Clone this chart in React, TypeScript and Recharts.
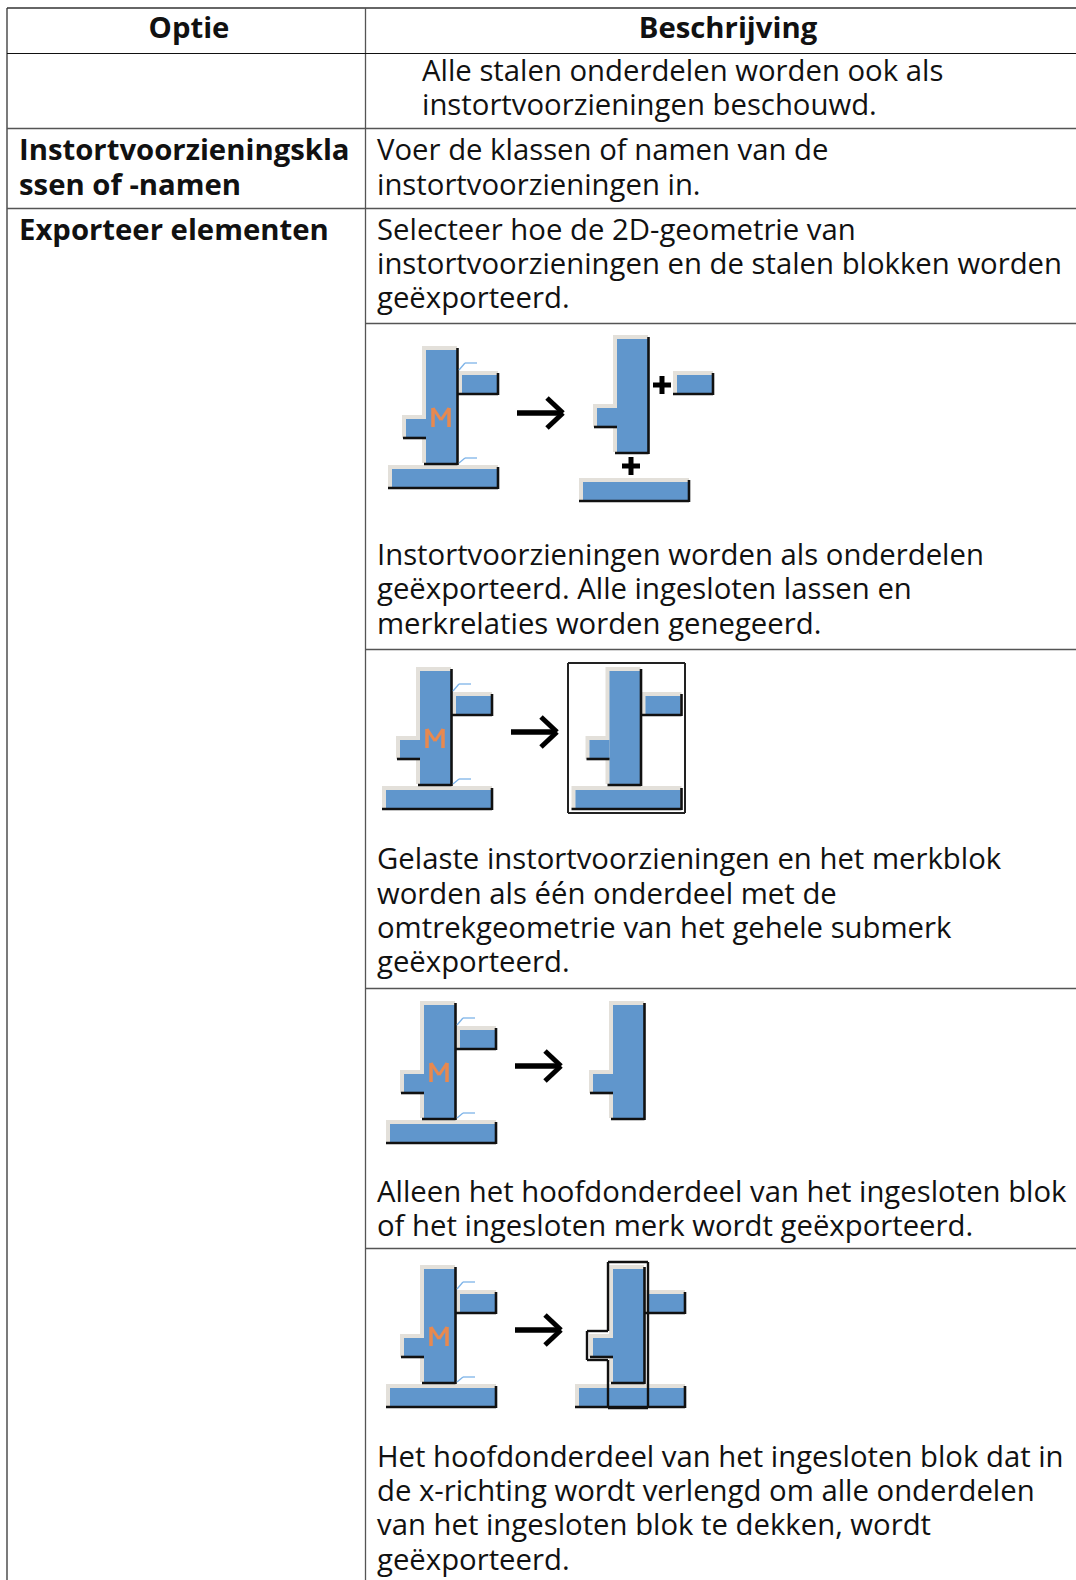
import React from 'react';
import { ComposedChart, XAxis, YAxis, Scatter, ReferenceLine, ReferenceArea } from 'recharts';

const W = 1076, H = 1580;
const FONT = '"Open Sans", sans-serif';
const MID = 365.5;

const headerTexts = ['Optie', 'Beschrijving'];
const optionLines = ['Instortvoorzieningskla', 'ssen of -namen', 'Exporteer elementen'];
const optionBaselines = [159.5, 194.5, 239.5];
const descLines = [
  'Alle stalen onderdelen worden ook als',
  'instortvoorzieningen beschouwd.',
  'Voer de klassen of namen van de',
  'instortvoorzieningen in.',
  'Selecteer hoe de 2D-geometrie van',
  'instortvoorzieningen en de stalen blokken worden',
  'geëxporteerd.',
  'Instortvoorzieningen worden als onderdelen',
  'geëxporteerd. Alle ingesloten lassen en',
  'merkrelaties worden genegeerd.',
  'Gelaste instortvoorzieningen en het merkblok',
  'worden als één onderdeel met de',
  'omtrekgeometrie van het gehele submerk',
  'geëxporteerd.',
  'Alleen het hoofdonderdeel van het ingesloten blok',
  'of het ingesloten merk wordt geëxporteerd.',
  'Het hoofdonderdeel van het ingesloten blok dat in',
  'de x-richting wordt verlengd om alle onderdelen',
  'van het ingesloten blok te dekken, wordt',
  'geëxporteerd.',
];
const descBaselines = [80.7, 114.7, 159.7, 194.7, 239.7, 273.7, 307.7, 564.7, 598.7, 633.7, 868.7, 903.7, 937.7, 971.7, 1201.7, 1235.7, 1466.7, 1500.7, 1534.7, 1569.7];
const descX = [422, 422, 377, 377, 377, 377, 377, 377, 377, 377, 377, 377, 377, 377, 377, 377, 377, 377, 377, 377];

const rowLinesRight = [323, 649, 988, 1248];

type Pt = { x: number; y: number; text: string; weight: number; anchor: string };
const textPoints: Pt[] = [
  { x: 189, y: 38, text: headerTexts[0], weight: 700, anchor: 'middle' },
  { x: 728, y: 38, text: headerTexts[1], weight: 700, anchor: 'middle' },
  ...optionLines.map((t, i) => ({ x: 19, y: optionBaselines[i], text: t, weight: 700, anchor: 'start' })),
  ...descLines.map((t, i) => ({ x: descX[i], y: descBaselines[i], text: t, weight: 400, anchor: 'start' })),
];

const TextShape = (p: any) => (
  <text x={p.cx} y={p.cy} textAnchor={p.payload.anchor} fontFamily={FONT} fontSize={29.3} fontWeight={p.payload.weight} fill="#111">{p.payload.text}</text>
);

const BLUE = '#6096cc', EDGE = '#e3e0da', DARK = '#111', WIRE = '#7db3e8', ORANGE = '#e8894f';
const rect = (k: string, x1: number, y1: number, x2: number, y2: number, fill: string) => (
  <ReferenceArea key={k} x1={x1} x2={x2} y1={y1} y2={y2} fill={fill} fillOpacity={1} stroke="none" ifOverflow="visible" />
);
const seg = (k: string, x1: number, y1: number, x2: number, y2: number, c = DARK, w = 2.6) => (
  <ReferenceLine key={k} segment={[{ x: x1, y: y1 }, { x: x2, y: y2 }]} stroke={c} strokeWidth={w} ifOverflow="visible" />
);
const block = (k: string, x1: number, y1: number, x2: number, y2: number) => [
  rect(k + 'e', x1 - 4, y1 - 4, x2 + 1, y2, EDGE),
  rect(k + 'b', x1, y1, x2, y2, BLUE),
  seg(k + 'r', x2 + 1, y1 - 2, x2 + 1, y2 + 2),
  seg(k + 'd', x1 - 4, y2 + 1, x2 + 1, y2 + 1),
];
const main = (k: string, ox: number, oy: number) => [
  rect(k + 'e1', ox + 62, oy + 26, ox + 97, oy + 143, EDGE),
  rect(k + 'e2', ox + 42, oy + 95, ox + 66, oy + 118, EDGE),
  rect(k + 'b1', ox + 66, oy + 30, ox + 97, oy + 143, BLUE),
  rect(k + 'b2', ox + 46, oy + 99, ox + 66, oy + 118, BLUE),
  seg(k + 'r', ox + 97.5, oy + 28, ox + 97.5, oy + 145),
  seg(k + 'd', ox + 64, oy + 144, ox + 97.5, oy + 144),
  seg(k + 'd2', ox + 43, oy + 118, ox + 66, oy + 118),
];
const parts = (k: string, ox: number, oy: number) => [
  ...main(k, ox, oy),
  ...block(k + 't', ox + 102, oy + 55, ox + 137, oy + 73),
  ...block(k + 'f', ox + 32, oy + 149, ox + 137, oy + 167),
];
const assembly = (k: string, ox: number, oy: number) => [
  ...parts(k, ox, oy),
  seg(k + 'w1', ox + 99, oy + 50, ox + 105, oy + 43, WIRE, 1.3),
  seg(k + 'w2', ox + 105, oy + 43, ox + 117, oy + 43, WIRE, 1.3),
  seg(k + 'w3', ox + 99, oy + 143, ox + 105, oy + 138, WIRE, 1.3),
  seg(k + 'w4', ox + 105, oy + 138, ox + 117, oy + 138, WIRE, 1.3),
  seg(k + 'm1', ox + 73, oy + 107, ox + 73, oy + 88, ORANGE, 3.5),
  seg(k + 'm2', ox + 73, oy + 88, ox + 81, oy + 100, ORANGE, 3),
  seg(k + 'm3', ox + 81, oy + 100, ox + 89, oy + 88, ORANGE, 3),
  seg(k + 'm4', ox + 89, oy + 88, ox + 89, oy + 107, ORANGE, 3.5),
];
const arrow = (k: string, ox: number, oy: number) => [
  seg(k + 'a', ox, oy, ox + 44, oy, '#000', 5.5),
  seg(k + 'b', ox + 30, oy - 15, ox + 46, oy, '#000', 5),
  seg(k + 'c', ox + 30, oy + 15, ox + 46, oy, '#000', 5),
];
const plus = (k: string, x: number, y: number) => [
  seg(k + 'h', x - 9, y, x + 9, y, '#000', 5),
  seg(k + 'v', x, y - 9, x, y + 9, '#000', 5),
];

const outline: [number, number][] = [[608, 1262], [648, 1262], [648, 1408], [608, 1408], [608, 1360], [587, 1360], [587, 1331], [608, 1331], [608, 1262]];

export default function App() {
  return (
    <div style={{ position: 'absolute', left: 0, top: 0, width: W, height: H, background: '#fff' }}>
      <ComposedChart width={W} height={H} margin={{ top: 0, right: 0, bottom: 0, left: 0 }} data={textPoints}>
        <XAxis type="number" dataKey="x" domain={[0, W]} hide />
        <YAxis type="number" dataKey="y" domain={[0, H]} reversed hide />
        {seg('top', 7, 8, W, 8, '#666', 2)}
        {seg('left', 7, 8, 7, H, '#333', 1.3)}
        {seg('mid', MID, 8, MID, H, '#555', 1.3)}
        {seg('rf0', 7, 53.5, W, 53.5, '#111', 1.2)}
        {seg('rf1', 7, 128.5, W, 128.5, '#555', 1.3)}
        {seg('rf2', 7, 208.5, W, 208.5, '#555', 1.3)}
        {rowLinesRight.map((y, i) => seg('rr' + i, MID, y + 0.5, W, y + 0.5, '#555', 1.3))}

        {assembly('a1', 360, 320)}
        {arrow('ar1', 517, 413)}
        {main('a1m', 551, 309)}
        {block('a1t', 677, 375, 712, 393)}
        {block('a1f', 583, 482, 688, 500)}
        {plus('p1', 662, 385)}
        {plus('p2', 631, 466)}

        {assembly('a2', 354, 641)}
        {arrow('ar2', 511, 732)}
        {parts('a2r', 543.5, 641)}
        {seg('f1', 568, 663, 685, 663, '#222', 2)}
        {seg('f2', 685, 663, 685, 813, '#222', 2)}
        {seg('f3', 685, 813, 568, 813, '#222', 2)}
        {seg('f4', 568, 813, 568, 663, '#222', 2)}

        {assembly('a3', 358, 975)}
        {arrow('ar3', 515, 1066)}
        {main('a3m', 547, 975)}

        {assembly('a4', 358, 1239)}
        {arrow('ar4', 515, 1330)}
        {parts('a4r', 547, 1239)}
        {outline.slice(1).map((p, i) => seg('o' + i, outline[i][0], outline[i][1], p[0], p[1], '#111', 2.4))}

        <Scatter data={textPoints} dataKey="y" shape={TextShape} isAnimationActive={false} />
      </ComposedChart>
    </div>
  );
}
